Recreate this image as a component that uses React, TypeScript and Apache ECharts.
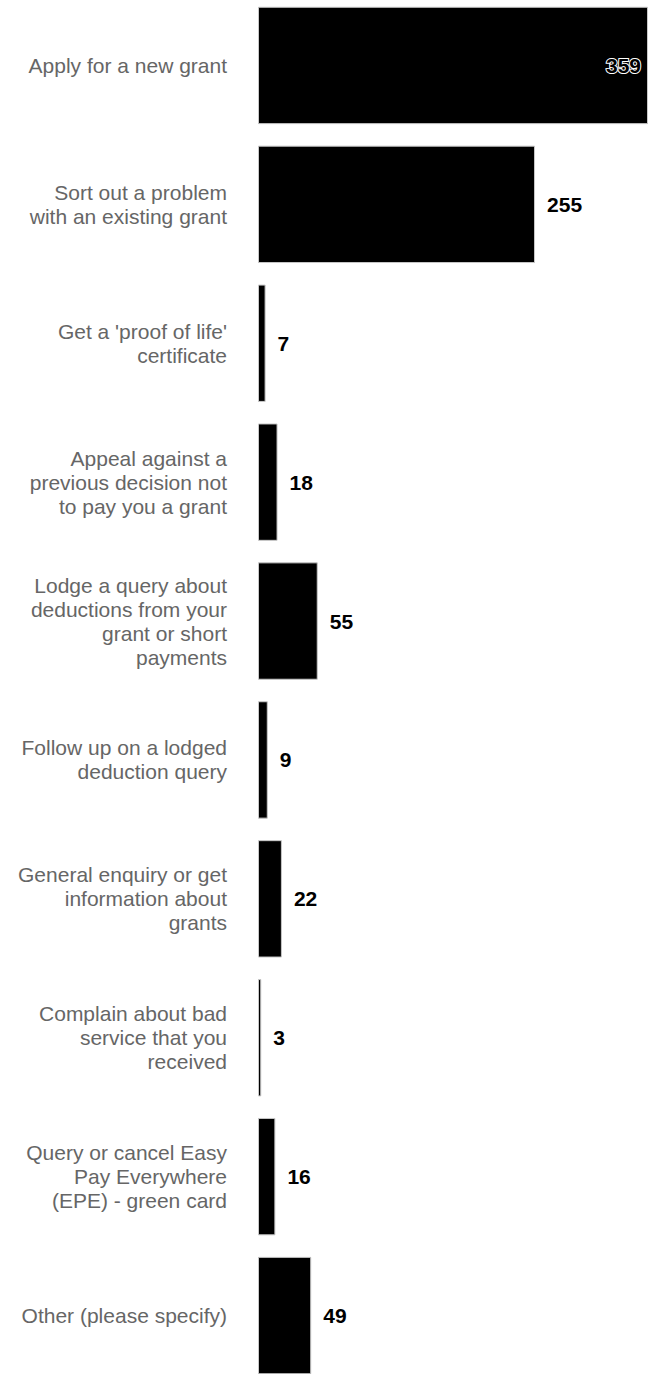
import React, { useEffect, useRef } from "react";
import * as echarts from "echarts";

const categories = [
  "Apply for a new grant",
  "Sort out a problem\nwith an existing grant",
  "Get a 'proof of life'\ncertificate",
  "Appeal against a\nprevious decision not\nto pay you a grant",
  "Lodge a query about\ndeductions from your\ngrant or short\npayments",
  "Follow up on a lodged\ndeduction query",
  "General enquiry or get\ninformation about\ngrants",
  "Complain about bad\nservice that you\nreceived",
  "Query or cancel Easy\nPay Everywhere\n(EPE) - green card",
  "Other (please specify)",
];

const values = [359, 255, 7, 18, 55, 9, 22, 3, 16, 49];

const FONT = "'Liberation Sans', Arial, Helvetica, sans-serif";

export default function App() {
  const ref = useRef<HTMLDivElement>(null);
  useEffect(() => {
    if (!ref.current) return;
    const chart = echarts.init(ref.current, undefined, { renderer: "svg" });
    const maxV = Math.max(...values);
    chart.setOption({
      animation: false,
      grid: { left: 258, right: 10, top: 0, bottom: 0, containLabel: false },
      xAxis: {
        type: "value",
        min: 0,
        max: maxV,
        show: false,
      },
      yAxis: {
        type: "category",
        data: categories,
        inverse: true,
        axisLine: { show: false },
        axisTick: { show: false },
        splitLine: { show: false },
        axisLabel: {
          color: "#666",
          fontSize: 21,
          lineHeight: 24,
          fontFamily: FONT,
          margin: 31,
          align: "right",
        },
      },
      series: [
        {
          type: "bar",
          barCategoryGap: "15.5%",
          data: values.map((v) =>
            v === maxV
              ? {
                  value: v,
                  label: {
                    position: "insideRight",
                    distance: 7,
                    color: "#000",
                    textBorderColor: "#fff",
                    textBorderWidth: 2,
                  },
                }
              : v
          ),
          itemStyle: { color: "#000", borderColor: "#c8c8c8", borderWidth: 1 },
          label: {
            show: true,
            position: "right",
            distance: 12,
            color: "#000",
            fontSize: 21,
            fontWeight: "bold",
            fontFamily: FONT,
          },
        },
      ],
    });
    return () => chart.dispose();
  }, []);
  return (
    <div
      ref={ref}
      style={{ position: "absolute", left: 0, top: -4, width: 658, height: 1389 }}
    />
  );
}
